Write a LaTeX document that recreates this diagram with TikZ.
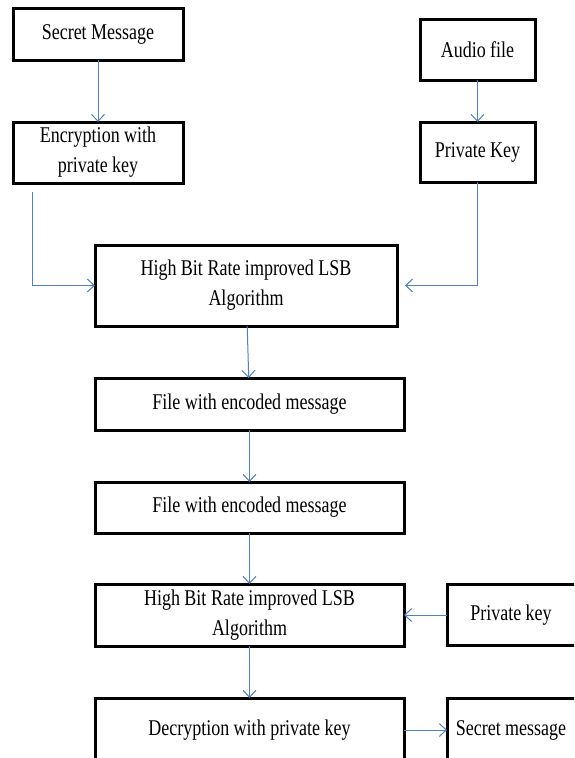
\documentclass[tikz,border=0pt]{standalone}
\usepackage{fontspec}
\setmainfont{Liberation Serif}[FakeStretch=0.8]
\usetikzlibrary{positioning,arrows.meta}
\definecolor{linkblue}{RGB}{79,129,189}
\tikzset{
block/.style = {draw, line width=3pt, fill=white, rectangle, outer sep=0pt, inner sep=0pt, align=center, font=\fontsize{22.5}{30}\selectfont},
line/.style = {draw=linkblue, line width=1pt, -{Straight Barb[length=7pt,width=13pt]}},
tmp/.style = {coordinate}
}

\begin{document}
\begin{tikzpicture}[x=1pt, y=1pt]
    \clip (0,0) rectangle (574,-758);
    % We start by placing the blocks
    \node [block, minimum width=170pt, minimum height=52pt] (secret) at (98,-34) {Secret Message};
    \node [block, minimum width=170pt, minimum height=61pt, below=62pt of secret] (enc) {Encryption with\\private key};
    \node [block, minimum width=115pt, minimum height=61pt] (audio) at (477.5,-49.5) {Audio file};
    \node [block, minimum width=115pt, minimum height=60pt, below=42pt of audio] (pkey) {Private Key};
    \node [block, minimum width=302pt, minimum height=81pt] (hbr1) at (246,-285.5) {High Bit Rate improved LSB\\Algorithm};
    \node [block, minimum width=309pt, minimum height=52pt, below=52pt of hbr1.south west, anchor=north west] (file1) {File with encoded message};
    \node [block, minimum width=309pt, minimum height=51pt, below=52pt of file1] (file2) {File with encoded message};
    \node [block, minimum width=309pt, minimum height=62pt, below=51pt of file2] (hbr2) {High Bit Rate improved LSB\\Algorithm};
    \node [block, minimum width=309pt, minimum height=64pt, below=52pt of hbr2] (dec) {Decryption with private key};
    \node [block, minimum width=132pt, minimum height=61pt, right=43pt of hbr2, anchor=west] (pkey2) {\hspace*{-4pt}Private key};
    \node [block, minimum width=132pt, minimum height=64pt, right=43pt of dec, anchor=west] (smsg) {\hspace*{-4pt}Secret message};
    \node [tmp] (encout) at (32,-192) {};

    % Once the nodes are placed, connecting them is easy.
    \draw [line] (secret) -- (enc);
    \draw [line] (audio) -- (pkey);
    \draw [line] (encout) |- (hbr1);
    \draw [line, shorten >=8pt] (pkey) |- (hbr1);
    \draw [line] (hbr1) -- (file1);
    \draw [line] (file1) -- (file2);
    \draw [line] (file2) -- (hbr2);
    \draw [line] (pkey2) -- (hbr2);
    \draw [line] (hbr2) -- (dec);
    \draw [line] (dec) -- (smsg);
\end{tikzpicture}
\end{document}
